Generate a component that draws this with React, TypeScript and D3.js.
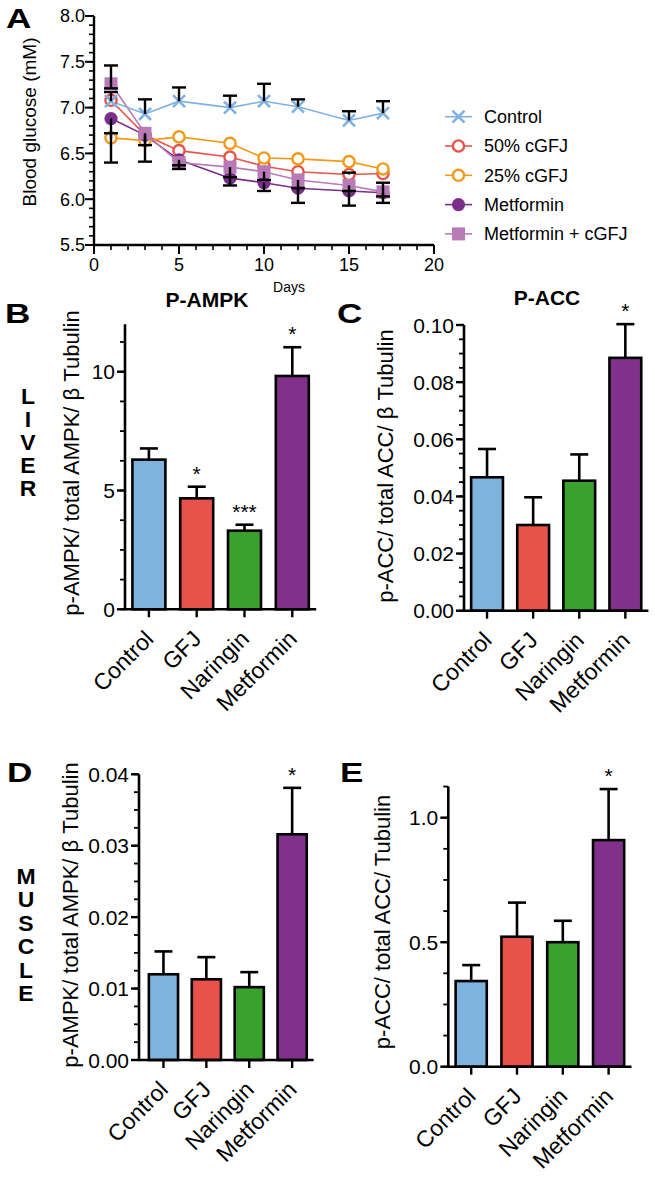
import React from "react";
import * as d3 from "d3";

// ---------- Panel A data ----------
const days = [1, 3, 5, 8, 10, 12, 15, 17];
const seriesNames = ["Control", "50% cGFJ", "25% cGFJ", "Metformin", "Metformin + cGFJ"];
const controlGlucose = [7.07, 6.93, 7.07, 7.0, 7.07, 7.01, 6.86, 6.94];
const cgfj50Glucose = [7.08, 6.7, 6.53, 6.46, 6.36, 6.3, 6.27, 6.28];
const cgfj25Glucose = [6.67, 6.64, 6.68, 6.61, 6.45, 6.44, 6.41, 6.33];
const metforminGlucose = [6.88, 6.7, 6.43, 6.23, 6.18, 6.12, 6.09, 6.07];
const metCgfjGlucose = [7.26, 6.72, 6.4, 6.35, 6.3, 6.21, 6.15, 6.08];
const controlErrUp = [0.1, 0.16, 0.15, 0.13, 0.19, 0.08, 0.1, 0.13];
const controlErrDown = [0, 0, 0, 0, 0, 0, 0, 0];
const cgfj50ErrUp = [0, 0, 0, 0, 0, 0, 0.02, 0];
const cgfj50ErrDown = [0, 0, 0, 0, 0, 0, 0, 0];
const cgfj25ErrUp = [0.05, 0, 0, 0, 0, 0, 0, 0];
const cgfj25ErrDown = [0, 0, 0, 0, 0, 0, 0, 0];
const metforminErrUp = [0, 0, 0, 0, 0, 0, 0, 0];
const metforminErrDown = [0.48, 0.29, 0.06, 0.08, 0.09, 0.16, 0.16, 0.11];
const metCgfjErrUp = [0.2, 0, 0, 0, 0, 0, 0, 0.1];
const metCgfjErrDown = [0.05, 0.13, 0.07, 0.11, 0.09, 0.09, 0.06, 0.05];
const glucoseTicks = [5.5, 6.0, 6.5, 7.0, 7.5, 8.0];
const dayTicks = [0, 5, 10, 15, 20];

// ---------- Bar panels data ----------
const barCategories = ["Control", "GFJ", "Naringin", "Metformin"];
const liverAmpkMean = [6.3, 4.67, 3.31, 9.82];
const liverAmpkErr = [0.47, 0.49, 0.25, 1.21];
const liverAmpkSig = ["", "*", "***", "*"];
const liverAccMean = [0.0467, 0.03, 0.0455, 0.0885];
const liverAccErr = [0.0099, 0.0097, 0.0092, 0.0118];
const liverAccSig = ["", "", "", "*"];
const muscleAmpkMean = [0.012, 0.0113, 0.0102, 0.0316];
const muscleAmpkErr = [0.0032, 0.0031, 0.0021, 0.0065];
const muscleAmpkSig = ["", "", "", "*"];
const muscleAccMean = [0.344, 0.522, 0.5, 0.91];
const muscleAccErr = [0.064, 0.137, 0.086, 0.205];
const muscleAccSig = ["", "", "", "*"];
const ampkLiverTicks = [0, 5, 10];
const accLiverTicks = [0, 0.02, 0.04, 0.06, 0.08, 0.1];
const ampkMuscleTicks = [0, 0.01, 0.02, 0.03, 0.04];
const accMuscleTicks = [0, 0.5, 1.0];

const FONT = "'Liberation Sans', Arial, Helvetica, sans-serif";
const barColors = ["#7fb2dc", "#e8524b", "#3ba12e", "#82318b"];
const lineColors = ["#7fb2e0", "#e8534a", "#f29a18", "#7b2d8b", "#b87bb8"];

function range(a: number, b: number, step: number) {
  const out: number[] = [];
  for (let v = a; v <= b + step * 1e-6; v += step) out.push(+v.toFixed(6));
  return out;
}

type Marker = "x" | "open" | "dot" | "square";

function MarkerShape({ kind, x, y, color }: { kind: Marker; x: number; y: number; color: string }) {
  if (kind === "x") {
    const s = 6;
    return (
      <g stroke={color} strokeWidth={2.6} strokeLinecap="butt">
        <line x1={x - s} y1={y - s} x2={x + s} y2={y + s} />
        <line x1={x - s} y1={y + s} x2={x + s} y2={y - s} />
      </g>
    );
  }
  if (kind === "open") return <circle cx={x} cy={y} r={5.6} fill="#fff" stroke={color} strokeWidth={2.4} />;
  if (kind === "dot") return <circle cx={x} cy={y} r={6.6} fill={color} />;
  return <rect x={x - 6.5} y={y - 6.5} width={13} height={13} fill={color} />;
}

function PanelA() {
  const x = d3.scaleLinear().domain([0, 20]).range([94, 434]);
  const y = d3.scaleLinear().domain([5.5, 8]).range([245, 16]);
  const series = [
    { name: seriesNames[0], vals: controlGlucose, up: controlErrUp, dn: controlErrDown, color: lineColors[0], m: "x" as Marker },
    { name: seriesNames[1], vals: cgfj50Glucose, up: cgfj50ErrUp, dn: cgfj50ErrDown, color: lineColors[1], m: "open" as Marker },
    { name: seriesNames[2], vals: cgfj25Glucose, up: cgfj25ErrUp, dn: cgfj25ErrDown, color: lineColors[2], m: "open" as Marker },
    { name: seriesNames[3], vals: metforminGlucose, up: metforminErrUp, dn: metforminErrDown, color: lineColors[3], m: "dot" as Marker },
    { name: seriesNames[4], vals: metCgfjGlucose, up: metCgfjErrUp, dn: metCgfjErrDown, color: lineColors[4], m: "square" as Marker },
  ];
  const drawOrder = [1, 2, 3, 4, 0];
  const line = d3.line<number>().x((_, i) => x(days[i])).y((v) => y(v));
  const minorY = range(5.5, 8, 0.1);
  const minorX = range(0, 20, 1);
  const cap = 7;
  return (
    <g fontFamily={FONT}>
      {/* axes */}
      <line x1={x(0)} y1={y(5.5)} x2={x(20)} y2={y(5.5)} stroke="#000" strokeWidth={2.4} />
      <line x1={x(0)} y1={y(5.5) + 1} x2={x(0)} y2={y(8)} stroke="#000" strokeWidth={2.4} />
      {minorY.map((v) => (
        <line key={"my" + v} x1={x(0) - 5} x2={x(0)} y1={y(v)} y2={y(v)} stroke="#000" strokeWidth={1.6} />
      ))}
      {glucoseTicks.map((v) => (
        <g key={"ty" + v}>
          <line x1={x(0) - 9} x2={x(0)} y1={y(v)} y2={y(v)} stroke="#000" strokeWidth={2} />
          <text x={x(0) - 9} y={y(v)} dy="0.36em" textAnchor="end" fontSize={18}>
            {d3.format(".1f")(v)}
          </text>
        </g>
      ))}
      {minorX.map((v) => (
        <line key={"mx" + v} x1={x(v)} x2={x(v)} y1={y(5.5)} y2={y(5.5) + 5} stroke="#000" strokeWidth={1.6} />
      ))}
      {dayTicks.map((v) => (
        <g key={"tx" + v}>
          <line x1={x(v)} x2={x(v)} y1={y(5.5)} y2={y(5.5) + 9} stroke="#000" strokeWidth={2} />
          <text x={x(v)} y={271} textAnchor="middle" fontSize={18}>
            {v}
          </text>
        </g>
      ))}
      <text x={289} y={292} textAnchor="middle" fontSize={14}>
        Days
      </text>
      <text transform={`translate(29,122) rotate(-90)`} textAnchor="middle" dy="0.36em" fontSize={19}>
        Blood glucose (mM)
      </text>
      {/* lines */}
      {drawOrder.map((si) => (
        <path key={"l" + si} d={line(series[si].vals) || ""} fill="none" stroke={series[si].color} strokeWidth={1.6} />
      ))}
      {/* markers */}
      {drawOrder.map((si) =>
        series[si].vals.map((v, i) => (
          <MarkerShape key={"m" + si + "-" + i} kind={series[si].m} x={x(days[i])} y={y(v)} color={series[si].color} />
        ))
      )}
      {/* error bars */}
      {series.map((s, si) =>
        s.vals.map((v, i) => {
          const cx = x(days[i]);
          const parts: JSX.Element[] = [];
          if (s.up[i] > 0) {
            parts.push(
              <g key={"eu" + si + i} stroke="#000" strokeWidth={2.4}>
                <line x1={cx} x2={cx} y1={y(v)} y2={y(v + s.up[i])} />
                <line x1={cx - cap} x2={cx + cap} y1={y(v + s.up[i])} y2={y(v + s.up[i])} />
              </g>
            );
          }
          if (s.dn[i] > 0) {
            parts.push(
              <g key={"ed" + si + i} stroke="#000" strokeWidth={2.4}>
                <line x1={cx} x2={cx} y1={y(v)} y2={y(v - s.dn[i])} />
                <line x1={cx - cap} x2={cx + cap} y1={y(v - s.dn[i])} y2={y(v - s.dn[i])} />
              </g>
            );
          }
          return parts;
        })
      )}
      {/* legend */}
      {series.map((s, i) => {
        const ly = 116.7 + i * 29.3;
        return (
          <g key={"lg" + i}>
            <line x1={445} x2={472} y1={ly} y2={ly} stroke={s.color} strokeWidth={1.6} />
            <MarkerShape kind={s.m} x={458.5} y={ly} color={s.color} />
            <text x={484} y={ly} dy="0.36em" fontSize={18}>
              {s.name}
            </text>
          </g>
        );
      })}
      <text x={6} y={28} fontSize={27} fontWeight="bold" transform="translate(6,28) scale(1.3,1) translate(-6,-28)">
        A
      </text>
    </g>
  );
}

type BarCfg = {
  means: number[];
  errs: number[];
  sigs: string[];
  axisX: number;
  x0: number;
  x1: number;
  y0: number;
  pxPerUnit: number;
  max: number;
  ticks: number[];
  minor: number;
  fmt: string;
  ylabel: string;
  ylabelX: number;
  ylabelY: number;
  letter: string;
  letterX: number;
  letterY: number;
  title?: string;
  titleX?: number;
  titleY?: number;
  pad: number;
};

function BarPanel({ c }: { c: BarCfg }) {
  const y = d3.scaleLinear().domain([0, c.max]).range([c.y0, c.y0 - c.max * c.pxPerUnit]);
  const x = d3.scaleBand<string>().domain(barCategories).range([c.x0, c.x1]).paddingInner(c.pad).paddingOuter(c.pad / 2);
  const bw = x.bandwidth();
  const minor = range(0, c.max, c.minor);
  const fmt = d3.format(c.fmt);
  const cap = 9;
  return (
    <g fontFamily={FONT}>
      {barCategories.map((cat, i) => {
        const cx = (x(cat) as number) + bw / 2;
        const top = y(c.means[i]);
        const et = y(c.means[i] + c.errs[i]);
        return (
          <g key={cat}>
            <line x1={cx} x2={cx} y1={top} y2={et} stroke="#000" strokeWidth={2.6} />
            <line x1={cx - cap} x2={cx + cap} y1={et} y2={et} stroke="#000" strokeWidth={2.6} />
            <rect x={x(cat)} y={top} width={bw} height={c.y0 - top} fill={barColors[i]} stroke="#000" strokeWidth={2.6} />
            {c.sigs[i] && (
              <text x={cx} y={et - 6} textAnchor="middle" fontSize={21}>
                {c.sigs[i]}
              </text>
            )}
            <line x1={cx} x2={cx} y1={c.y0} y2={c.y0 + 8} stroke="#000" strokeWidth={2.4} />
            <text
              transform={`translate(${cx + 6},${c.y0 + 31}) rotate(-45)`}
              textAnchor="end"
              fontSize={23}
            >
              {cat}
            </text>
          </g>
        );
      })}
      <line x1={c.axisX - 1} x2={c.x1} y1={c.y0} y2={c.y0} stroke="#000" strokeWidth={2.6} />
      <line x1={c.axisX} x2={c.axisX} y1={c.y0} y2={y(c.max)} stroke="#000" strokeWidth={2.6} />
      {minor.map((v) => (
        <line key={"mn" + v} x1={c.axisX - 5} x2={c.axisX} y1={y(v)} y2={y(v)} stroke="#000" strokeWidth={1.8} />
      ))}
      {c.ticks.map((v) => (
        <g key={"t" + v}>
          <line x1={c.axisX - 8} x2={c.axisX} y1={y(v)} y2={y(v)} stroke="#000" strokeWidth={2.4} />
          <text x={c.axisX - 10} y={y(v)} dy="0.36em" textAnchor="end" fontSize={21}>
            {fmt(v)}
          </text>
        </g>
      ))}
      <text transform={`translate(${c.ylabelX},${c.ylabelY}) rotate(-90)`} textAnchor="middle" dy="0.36em" fontSize={22}>
        {c.ylabel}
      </text>
      <text
        x={c.letterX}
        y={c.letterY}
        fontSize={27}
        fontWeight="bold"
        transform={`translate(${c.letterX},${c.letterY}) scale(1.3,1) translate(${-c.letterX},${-c.letterY})`}
      >
        {c.letter}
      </text>
      {c.title && (
        <text x={c.titleX} y={c.titleY} textAnchor="middle" fontSize={21} fontWeight="bold">
          {c.title}
        </text>
      )}
    </g>
  );
}

function Stacked({ word, x, y0, step }: { word: string; x: number; y0: number; step: number }) {
  return (
    <g fontFamily={FONT} fontWeight="bold" fontSize={20}>
      {word.split("").map((ch, i) => (
        <text
          key={i}
          x={x}
          y={y0 + i * step}
          dy="0.36em"
          textAnchor="middle"
          transform={`translate(${x},${y0 + i * step}) scale(1.15,1.1) translate(${-x},${-(y0 + i * step)})`}
        >
          {ch}
        </text>
      ))}
    </g>
  );
}

export default function App() {
  const B: BarCfg = {
    means: liverAmpkMean, errs: liverAmpkErr, sigs: liverAmpkSig,
    axisX: 125, x0: 125, x1: 316.2, y0: 609.3, pxPerUnit: 23.76, max: 12,
    ticks: ampkLiverTicks, minor: 1.25, fmt: "d",
    ylabel: "p-AMPK/ total AMPK/ \u03b2 Tubulin", ylabelX: 71, ylabelY: 463,
    letter: "B", letterX: 5, letterY: 323, title: "P-AMPK", titleX: 207, titleY: 307, pad: 0.31,
  };
  const C: BarCfg = {
    means: liverAccMean, errs: liverAccErr, sigs: liverAccSig,
    axisX: 464, x0: 464, x1: 648.4, y0: 610.7, pxPerUnit: 2857, max: 0.1,
    ticks: accLiverTicks, minor: 0.005, fmt: ".2f",
    ylabel: "p-ACC/ total ACC/ \u03b2 Tubulin", ylabelX: 385, ylabelY: 466,
    letter: "C", letterX: 337, letterY: 323, title: "P-ACC", titleX: 547, titleY: 305, pad: 0.31,
  };
  const D: BarCfg = {
    means: muscleAmpkMean, errs: muscleAmpkErr, sigs: muscleAmpkSig,
    axisX: 139, x0: 142, x1: 313.6, y0: 1060, pxPerUnit: 7143, max: 0.04,
    ticks: ampkMuscleTicks, minor: 0.0025, fmt: ".2f",
    ylabel: "p-AMPK/ total AMPK/ \u03b2 Tubulin", ylabelX: 70, ylabelY: 915,
    letter: "D", letterX: 7, letterY: 782, pad: 0.32,
  };
  const E: BarCfg = {
    means: muscleAccMean, errs: muscleAccErr, sigs: muscleAccSig,
    axisX: 448.3, x0: 448.3, x1: 631.5, y0: 1066.7, pxPerUnit: 249, max: 1.125,
    ticks: accMuscleTicks, minor: 0.125, fmt: ".1f",
    ylabel: "p-ACC/ total ACC/ Tubulin", ylabelX: 382, ylabelY: 922,
    letter: "E", letterX: 340, letterY: 782, pad: 0.32,
  };
  return (
    <svg
      width={655}
      height={1177}
      viewBox="0 0 655 1177"
      style={{ position: "absolute", left: 0, top: 0, background: "#fff" }}
    >
      <rect width={655} height={1177} fill="#fff" />
      <PanelA />
      <BarPanel c={B} />
      <BarPanel c={C} />
      <BarPanel c={D} />
      <BarPanel c={E} />
      <Stacked word="LIVER" x={28} y0={396} step={23} />
      <Stacked word="MUSCLE" x={26} y0={876} step={23.4} />
    </svg>
  );
}
